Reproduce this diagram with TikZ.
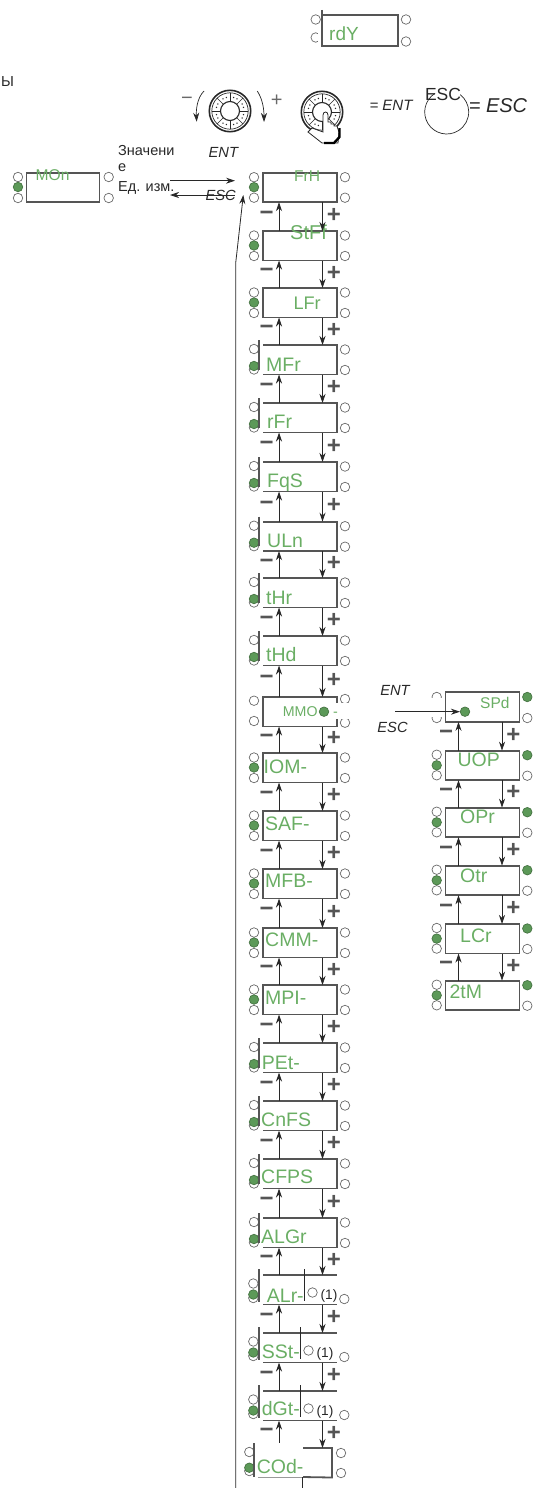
\documentclass[tikz,border=0pt]{standalone}
\usepackage{fontspec}
\setmainfont{Liberation Sans}
\usetikzlibrary{arrows.meta,calc}
\definecolor{dispgreen}{RGB}{106,174,100}
\definecolor{ledgreen}{RGB}{92,153,88}
\definecolor{ledgray}{RGB}{105,105,105}
\definecolor{boxgray}{RGB}{85,85,85}
\definecolor{inkdark}{RGB}{40,40,40}
\tikzset{
  dispbox/.style={rectangle, inner sep=0pt, outer sep=0pt, minimum width=74pt,
                  minimum height=29.5pt, anchor=north west},
  shut/.style={dispbox, draw=boxgray, line width=1.8pt},
  rim/.style={boxgray, line width=1.8pt},
  led/.style={circle, draw=ledgray, fill=white, line width=.7pt, inner sep=0pt, minimum size=9.5pt},
  ledon/.style={led, fill=ledgreen, draw=ledgreen!75!black},
  lab/.style={inner sep=0pt, anchor=west, text=dispgreen, text height={0.72*#1 pt}, text depth=0pt,
              font=\fontsize{#1}{#1}\selectfont},
  lab/.default=19.5,
  cap/.style={inner sep=0pt, text=inkdark, font=\fontsize{#1}{#1}\selectfont},
  capit/.style={cap=#1, font=\fontsize{#1}{#1}\selectfont\itshape},
  upar/.style={-{Stealth[length=9pt,width=6pt]}, inkdark, line width=.8pt},
  sgn/.style={inner sep=0pt, text=boxgray, font=\fontsize{24}{24}\selectfont\bfseries},
  wheel/.style={inkdark, line width=#1},
}
% left lamps, the green one over the third
\newcommand{\Lamps}[5]{%
  \node[led] (#1a) at (#2,#3) {}; \node[led] (#1c) at (#2,#5) {};
  \node[ledon] (#1b) at (#2,#4) {};}
% the two lamps to the right
\newcommand{\Rlamps}[4]{%
  \node[led] (#1p) at (#2,#3) {}; \node[led] (#1q) at (#2,#4) {};}
% arrows and signs between two panels
\newcommand{\Link}[3]{%
  \draw[upar] ([xshift={#3+16}]#2.north west) -- ([xshift={#3+16}]#1.south west);
  \draw[upar] ([xshift={#3+59.5}]#1.south west) -- ([xshift={#3+59.5}]#2.north west);
  \node[sgn] (#1m) at ($([xshift={#3+3.7},yshift=1]#1.south west)!.5!([xshift={#3+3.7},yshift=1]#2.north west)$) {−};
  \node[sgn] (#1s) at ($([xshift={#3+71},yshift=1]#1.south west)!.5!([xshift={#3+71},yshift=1]#2.north west)$) {+};}
\newcommand{\Dial}[3]{%
  \begin{scope}[shift={(#2,#3)}]
    \draw[wheel=1.6pt] (0,0) circle (20.7pt);
    \draw[wheel=.7pt] (0,0) circle (18.2pt);
    \draw[wheel=1.1pt] (0,0) circle (9.5pt);
    \foreach \a in {0,45,...,315} {
      \draw[wheel=.7pt] (\a:9.5pt) -- (\a:18.2pt);
      \fill[inkdark] (\a+15:14pt) circle (.8pt);
      \fill[inkdark] (\a+30:14pt) circle (.8pt);
    }
  \end{scope}}
\begin{document}
\begin{tikzpicture}[x=1pt, y=-1pt]
  \useasboundingbox (0,0) rectangle (533,1488);
  % head of the page
  \node[dispbox] (rdy) at (322,15) {};
  \node[led] (rdya) at (315.7,19.5) {};
  \node[led] (rdyc) at (315.7,37.5) {};
  \fill[white] (318,32) rectangle (321,44);
  \draw[rim] (322,10) -- (322,46) -- (398,46) -- (398,15) -- (322,15);
  \Rlamps{rdy}{406}{19.5}{41.5}
  \node[lab=19] (rdyt) at (329,34) {rdY};
  \node[cap=14.5, anchor=west] (cut) at (1,82) {Ы};
  \Dial{dlone}{230}{111}
  \Dial{dltwo}{322}{112}
  \draw[-{Stealth[length=9pt,width=6pt]}, inkdark, line width=.7pt]
    (204,91) .. controls (197,98) and (196,110) .. (196.7,121.7);
  \draw[-{Stealth[length=9pt,width=6pt]}, inkdark, line width=.7pt]
    (257.3,91) .. controls (263,100) and (264,110) .. (264,122);
  \node[cap=20, text=ledgray] (dlminus) at (187,101) {−};
  \node[cap=20, text=ledgray] (dlplus) at (276.7,101) {+};
  \draw[inkdark, fill=white, line width=.8pt] (323,128) -- (323,115)
    .. controls (323,111) and (328,111) .. (328,115) -- (328,122) -- (331,122) -- (331,124)
    -- (334,124) -- (334,126) -- (337,126) -- (339,132) -- (338,143) -- (322,143)
    -- (308,132) -- (312,128) -- (323,132) -- cycle;
  \draw[line width=2.4pt] (339.5,128) -- (339.5,137) -- (334,143) -- (324,143);
  \node[capit=15] (tent) at (391,105) {= ENT};
  \node[cap=17.5] (tesc) at (443,94) {ESC};
  \coordinate (ring) at (446.7,112);
  \draw[inkdark, line width=.7pt] (ring) ++(122:22pt) arc[start angle=122, end angle=412, radius=22pt];
  \node[capit=20] (tenter) at (498,106) {= ESC};
  % the panel out to the left
  \node[shut, minimum width=73pt] (mon) at (26.5,172.7) {};
  \Lamps{mon}{18}{177}{187}{198}
  \Rlamps{mon}{108.7}{177}{198}
  \node[lab=15.6] (mont) at (35.5,175) {MOn};
  \node[cap=14.5, anchor=west] (val) at (118,151) {Значени};
  \node[cap=14.5, anchor=west] (vale) at (118,168) {е};
  \node[cap=14.5, anchor=west] (unit) at (118,188) {Ед. изм.};
  \coordinate (toa) at (170,180.7); \coordinate (tob) at (235,180.7);
  \coordinate (boa) at (235,195); \coordinate (bob) at (170,195);
  \draw[upar] (toa) -- (tob);
  \draw[upar] (boa) -- (bob);
  \node[capit=14.7] (ent) at (223.3,152.7) {ENT};
  \node[capit=14.7] (esc) at (220.7,195) {ESC};
  % first column
  \foreach \nm/\ytop/\txt/\tx/\ty/\fs in {frh/172.7/FrH/294/175.7/15.6, stf/231/StFf/290/232.7/20,
      lfr/288/LFr/293.3/302.7/18.2, iom/753/IOM-/263.5/766.7/19.5, saf/811/SAF-/265/823/19.5,
      mfb/869/MFB-/265/880.7/19.5, cmm/928/CMM-/265/939.3/19.5, mpi/985/MPI-/265/997.3/19.5} {
    \node[shut] (\nm) at (263,\ytop) {};
    \Lamps{\nm}{254}{\ytop+4.5}{\ytop+14.5}{\ytop+25}
    \Rlamps{\nm}{345}{\ytop+4.5}{\ytop+25}
    \node[lab=\fs] (\nm t) at (\tx,\ty) {\txt};
  }
  \foreach \nm/\ytop/\txt/\tx/\ty in {mfr/345/MFr/266/364, rfr/403/rFr/267/421, fqs/462/FqS/267/480,
      uln/521.7/ULn/267/540.7, thr/578/tHr/266/597, thd/636/tHd/266/654, pet/1043/PEt-/261.7/1062.7,
      cnf/1101/CnFS/261/1119, cfp/1159/CFPS/261/1176.7, alg/1218/ALGr/261/1236.7} {
    \node[dispbox] (\nm) at (263,\ytop) {};
    \Lamps{\nm}{254}{\ytop+4}{\ytop+21}{\ytop+24.5}
    \draw[rim] (\nm.north west) -- (\nm.north east) -- (\nm.south east) -- (\nm.south west);
    \draw[rim] ([xshift=-3.7,yshift=5]\nm.north west) -- ([xshift=-3.7,yshift=5]\nm.south west);
    \Rlamps{\nm}{345}{\ytop+4.5}{\ytop+25}
    \node[lab] (\nm t) at (\tx,\ty) {\txt};
  }
  \foreach \nm/\ytop/\txt/\tx/\ty/\sx in {alr/1275/ALr-/266.7/1295/304, sst/1333/SSt-/261.7/1351.7/300,
      dgt/1391/dGt-/261.7/1408.3/300} {
    \node[dispbox] (\nm) at (263,\ytop) {};
    \Lamps{\nm}{253.3}{\ytop+8.5}{\ytop+19.5}{\ytop+23}
    \draw[rim] (\nm.north west) -- (\nm.north east);
    \draw[rim] (\nm.south west) -- (\nm.south east);
    \draw[rim] (259.3,\ytop-6) -- (259.3,\ytop+27);
    \draw[inkdark, line width=1pt] (\sx,\ytop-6) -- (\sx,\ytop+26);
    \node[led] (\nm p) at ({\sx+8.5},{\ytop+17.5}) {};
    \node[cap=13.7] (\nm n) at ({\sx+25},{\ytop+20.5}) {(1)};
    \node[led] (\nm q) at (344.3,{\ytop+24}) {};
    \node[lab] (\nm t) at (\tx,\ty) {\txt};
  }
  % the panel with the branch
  \node[shut] (mmo) at (263,697) {};
  \node[led] (mmoa) at (254,700.7) {}; \node[led] (mmoc) at (254,721) {};
  \Rlamps{mmo}{345}{699}{722.7}
  \fill[white] (334,703) rectangle (353,719);
  \node[lab=14.2] (mmot) at (282.7,711.7) {MMO};
  \node[ledon] (mmod) at (324,711.7) {};
  \node[lab=14.2] (mmob) at (333,711.7) {-};
  % the end of the column
  \node[dispbox] (cod) at (258,1448) {};
  \node[led] (coda) at (249.3,1452) {}; \node[led] (codc) at (249.3,1471) {};
  \node[ledon] (codb) at (249.3,1467.7) {};
  \draw[rim] (303,1448) -- (cod.north east) -- (cod.south east) -- (303,1477);
  \draw[boxgray!60, line width=.5pt] (258,1477) -- (303,1477);
  \draw[rim] (254.3,1443) -- (254.3,1477);
  \draw[inkdark, line width=.8pt] (302,1477) -- (302,1488);
  \node[led] (codp) at (341,1453) {}; \node[led] (codq) at (341,1473) {};
  \node[lab] (codt) at (256.7,1466) {COd-};
  \foreach \up/\dn in {frh/stf, stf/lfr, lfr/mfr, mfr/rfr, rfr/fqs, fqs/uln, uln/thr, thr/thd, thd/mmo, mmo/iom,
      iom/saf, saf/mfb, mfb/cmm, cmm/mpi, mpi/pet, pet/cnf, cnf/cfp, cfp/alg, alg/alr, alr/sst, sst/dgt} {
    \Link{\up}{\dn}{0}
  }
  \coordinate (codup) at (279,1442.7); \coordinate (coddn) at (322.5,1448);
  \draw[upar] (codup) -- ([xshift=16]dgt.south west);
  \draw[upar] ([xshift=59.5]dgt.south west) -- (coddn);
  \node[sgn] (dgtm) at (266.7,1433) {−};
  \node[sgn] (dgts) at (334,1433) {+};
  % the long way back
  \coordinate (backa) at (235.7,1488); \coordinate (backb) at (235.7,263); \coordinate (backc) at (243.3,195);
  \draw[upar] (backa) -- (backb) -- (backc);
  % second column
  \node[shut] (spd) at (445.5,692.3) {};
  \node[led] (spda) at (436.7,697) {}; \node[led] (spdc) at (436.7,718) {};
  \fill[white] (430,698) rectangle (444.5,717);
  \node[ledon] (spdp) at (527.3,697) {}; \node[led] (spdq) at (527.3,718) {};
  \node[ledon] (spdb) at (465,711.7) {};
  \node[lab=15.5] (spdt) at (480,703.3) {SPd};
  \foreach \nm/\ytop/\txt/\tx/\ty in {uop/750.7/UOP/457.3/759.3, opr/807.7/OPr/460/816.7, otr/865.7/Otr/460/875,
      lcr/924/LCr/460/935, tm/980.7/2tM/449.3/991} {
    \node[shut] (\nm) at (445.5,\ytop) {};
    \Lamps{\nm}{436.7}{\ytop+4}{\ytop+14.6}{\ytop+24.6}
    \node[ledon] (\nm p) at (527.3,{\ytop+4.5}) {};
    \node[led] (\nm q) at (527.3,{\ytop+25}) {};
    \node[lab] (\nm t) at (\tx,\ty) {\txt};
  }
  \foreach \up/\dn in {spd/uop, uop/opr, opr/otr, otr/lcr, lcr/tm} {
    \Link{\up}{\dn}{-3}
  }
  \coordinate (spdin) at (395,711.7);
  \draw[upar] (spdin) -- (spdb);
  \node[capit=14.7] (spdent) at (395,690.7) {ENT};
  \node[capit=14.7] (spdesc) at (392.5,727.7) {ESC};
\end{tikzpicture}
\end{document}
